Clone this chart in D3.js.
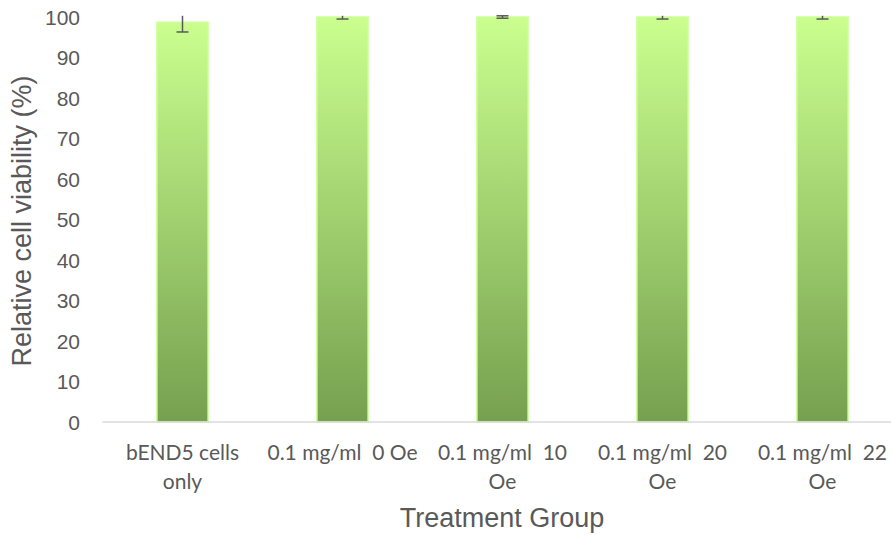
<!DOCTYPE html>
<html><head><meta charset="utf-8">
<script src="https://cdn.jsdelivr.net/npm/d3@7"></script>
<style>body{margin:0;background:#fff}svg{display:block}</style>
</head><body>
<svg id="c" width="891" height="535"></svg>
<script>
const categories = [["bEND5 cells","only"],["0.1 mg/ml  0 Oe"],["0.1 mg/ml  10","Oe"],["0.1 mg/ml  20","Oe"],["0.1 mg/ml  22","Oe"]];
const values = [98.7, 100, 100, 100, 100];
const errors = [2.4, 0.5, 0.3, 0.5, 0.5];
const yTicks = [0,10,20,30,40,50,60,70,80,90,100];

const svg = d3.select("#c");
const pL = 102.5, pR = 902.5, pT = 17, pB = 422;
const x = d3.scaleBand().domain(d3.range(categories.length)).range([pL, pR]).paddingInner(0.68).paddingOuter(0.34);
const y = d3.scaleLinear().domain([0,100]).range([pB, pT]);

const defs = svg.append("defs");
const g = defs.append("linearGradient").attr("id","gr").attr("x1",0).attr("y1",0).attr("x2",0).attr("y2",1);
g.append("stop").attr("offset","0%").attr("stop-color","#caff8f");
g.append("stop").attr("offset","100%").attr("stop-color","#76a04f");

svg.append("g").selectAll("rect").data(values).join("rect")
  .attr("x",(d,i)=>x(i)).attr("width",x.bandwidth())
  .attr("y",d=>y(d)).attr("height",d=>y(0)-y(d))
  .attr("fill","url(#gr)").attr("stroke","#ccff99").attr("stroke-width",1.5);

// axis line
svg.append("line").attr("x1",pL).attr("x2",891).attr("y1",y(0)).attr("y2",y(0)).attr("stroke","#d9d9d9").attr("stroke-width",1.5);

// error bars
const eb = svg.append("g").attr("stroke","#595959").attr("stroke-width",1.5);
values.forEach((v,i)=>{
  const cx = x(i)+x.bandwidth()/2;
  const hi = Math.min(v+errors[i], 100.3), lo = v-errors[i];
  eb.append("line").attr("x1",cx).attr("x2",cx).attr("y1",y(hi)).attr("y2",y(lo));
  eb.append("line").attr("x1",cx-6).attr("x2",cx+6).attr("y1",y(lo)).attr("y2",y(lo));
  if (v+errors[i] <= 100.3) eb.append("line").attr("x1",cx-6).attr("x2",cx+6).attr("y1",y(hi)).attr("y2",y(hi));
});

// y ticks
svg.append("g").selectAll("text").data(yTicks).join("text")
  .attr("x",80).attr("y",d=>y(d)).attr("dy","0.36em").attr("text-anchor","end")
  .attr("font-family","Liberation Sans, Arial, sans-serif").attr("font-size",21).attr("fill","#595959")
  .text(d=>d);

// category labels
const cl = svg.append("g").attr("font-family","Lato, 'Open Sans', sans-serif").attr("font-size",21).attr("fill","#595959").attr("text-anchor","middle");
categories.forEach((lines,i)=>{
  const cx = x(i)+x.bandwidth()/2;
  const t = cl.append("text").attr("x",cx).attr("y",460);
  lines.forEach((l,j)=>t.append("tspan").attr("x",cx).attr("dy",j?29:0).style("white-space","pre").text(l));
});

// axis titles
svg.append("text").attr("x",502).attr("y",527).attr("text-anchor","middle")
  .attr("font-family","Liberation Sans, Arial, sans-serif").attr("font-size",27).attr("fill","#595959").text("Treatment Group");
svg.append("text").attr("transform","translate(31,221) rotate(-90)").attr("text-anchor","middle")
  .attr("font-family","Liberation Sans, Arial, sans-serif").attr("font-size",27).attr("fill","#595959").text("Relative cell viability (%)");
</script>
</body></html>
